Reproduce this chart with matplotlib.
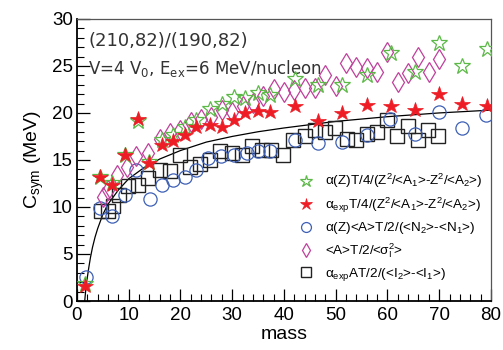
import numpy as np
import matplotlib
matplotlib.use('Agg')
import matplotlib.pyplot as plt
from matplotlib.ticker import MultipleLocator

plt.rcParams['font.family'] = ['Liberation Sans', 'DejaVu Sans']
plt.rcParams['mathtext.fontset'] = 'custom'
plt.rcParams['mathtext.rm'] = 'Liberation Sans'
plt.rcParams['mathtext.it'] = 'Liberation Sans:italic'
plt.rcParams['mathtext.default'] = 'regular'

# alpha(Z) T/4/(...)  (green open stars)
m_green = [1.5, 4.5, 6.8, 9.3, 11.7, 13.9, 16.4, 18.6, 20.9, 23.1, 25.7, 28.0, 30.3,
           32.5, 35.0, 37.3, 42.1, 46.6, 51.2, 56.0, 60.7, 65.3, 70.0, 74.5, 79.2]
c_green = [1.8, 13.2, 12.5, 15.5, 19.1, 14.8, 17.1, 17.7, 18.5, 19.2, 20.4, 20.9, 21.7,
           21.6, 22.1, 21.9, 23.6, 23.0, 23.0, 24.0, 26.4, 24.4, 27.4, 25.0, 26.8]

# alpha_exp T/4/(...)  (red filled stars)
m_red = m_green
c_red = [1.6, 13.2, 12.3, 15.5, 19.4, 14.7, 16.6, 17.0, 17.7, 18.5, 18.7, 18.5, 19.3,
         20.0, 20.2, 20.1, 20.7, 19.1, 20.0, 20.8, 20.7, 20.3, 22.0, 21.0, 20.7]

# alpha(Z)<A>T/2/(<N2>-<N1>)  (blue circles)
m_blue = [1.7, 4.4, 6.7, 9.3, 11.5, 14.1, 16.4, 18.6, 20.9, 23.1, 25.4, 27.8, 30.3,
          32.8, 35.0, 37.3, 42.1, 46.6, 51.3, 56.0, 60.5, 65.3, 70.0, 74.5, 79.0]
c_blue = [2.5, 9.9, 9.0, 11.3, 13.9, 10.9, 12.3, 12.9, 13.2, 13.9, 15.2, 15.4, 15.5,
          15.7, 15.9, 16.0, 17.1, 16.8, 16.9, 17.7, 19.4, 17.8, 20.1, 18.4, 19.8]

# <A>T/2/<sigma_I^2>  (magenta diamonds)
m_dia = [5, 6, 7.7, 9.6, 11.5, 13.8, 16, 18, 20, 22, 24, 26, 28, 30, 32, 34, 36,
         38, 40, 42, 44, 46, 48, 50, 52, 54, 56, 58, 60, 62, 64, 66, 68, 70]
c_dia = [11.1, 11.8, 13.4, 14.3, 15.4, 15.7, 17.2, 17.9, 18.2, 19.0, 19.4, 19.6, 20.3,
         20.1, 20.7, 21.1, 21.8, 22.5, 22.2, 22.4, 22.6, 22.7, 24.0, 22.9, 25.3, 24.9,
         24.8, 24.3, 26.5, 23.3, 24.2, 26.0, 24.4, 25.7]

# alpha_exp AT/2/(<I2>-<I1>)  (black squares)
m_sq = [4.6, 6.0, 7.0, 8.2, 9.9, 11.8, 13.8, 16.0, 18.0, 19.9, 21.8, 23.8, 25.7, 27.6,
        29.9, 31.8, 33.9, 35.7, 37.5, 39.9, 41.8, 44.1, 46.0, 47.9, 49.9, 52.1, 54.0,
        56.0, 57.9, 59.9, 61.8, 64.0, 66.0, 67.9, 69.8]
c_sq = [9.6, 9.6, 10.1, 11.3, 12.2, 12.3, 13.1, 13.9, 13.8, 15.5, 14.3, 14.6, 15.0, 15.9,
        15.7, 15.5, 16.5, 16.1, 16.1, 15.5, 17.1, 17.5, 18.2, 18.0, 18.4, 17.2, 17.1,
        17.8, 18.0, 19.3, 17.5, 18.6, 17.1, 18.2, 17.6]

# solid curve, points
m_fit = [1.5, 1.7, 2.0, 2.3, 2.6, 3.0, 3.5, 4.0, 5.0, 6.0, 8.0, 10.0, 13.0, 16.0,
         20.0, 25.0, 30.0, 35.0, 40.0, 50.0, 60.0, 70.0, 80.0]
c_fit = [0.0, 1.2, 2.5, 3.6, 4.6, 5.7, 6.8, 7.7, 9.2, 10.3, 11.8, 13.0, 14.2, 15.1,
         16.0, 16.9, 17.5, 18.0, 18.4, 19.1, 19.6, 20.0, 20.3]

fig = plt.figure(figsize=(5.03, 3.5), dpi=100)
ax = fig.add_axes([0.153, 0.140, 0.823, 0.806])

ax.plot(m_fit, c_fit, '-', color='k', lw=0.9, zorder=1)
ax.plot(m_sq, c_sq, 's', ms=9.5, mfc='none', mec='#222222', mew=1.0, zorder=2,
        label=r'α$_{exp}$AT/2/(<I$_2$>-<I$_1$>)')
ax.plot(m_blue, c_blue, 'o', ms=9.5, mfc='none', mec='#3d5fb5', mew=0.9, zorder=3,
        label=r'α(Z)<A>T/2/(<N$_2$>-<N$_1$>)')
ax.plot(m_dia, c_dia, 'd', ms=10, mfc='none', mec='#c0409c', mew=0.9, zorder=4,
        label=r'<A>T/2/<σ$_I^2$>')
ax.plot(m_green, c_green, '*', ms=12, mfc='none', mec='#5cb947', mew=0.9, zorder=5,
        label=r'α(Z)T/4/(Z$^2$/<A$_1$>-Z$^2$/<A$_2$>)')
ax.plot(m_red, c_red, '*', ms=11.5, mfc='#ee1c25', mec='#ee1c25', mew=0.5, zorder=6,
        label=r'α$_{exp}$T/4/(Z$^2$/<A$_1$>-Z$^2$/<A$_2$>)')

ax.set_xlim(0, 80)
ax.set_ylim(0, 30)
ax.xaxis.set_major_locator(MultipleLocator(10))
ax.xaxis.set_minor_locator(MultipleLocator(2))
ax.yaxis.set_major_locator(MultipleLocator(5))
ax.yaxis.set_minor_locator(MultipleLocator(1))
ax.tick_params(which='both', direction='in', top=False, right=False, labelsize=13.5)
ax.tick_params(which='major', length=9, width=0.9)
ax.tick_params(which='minor', length=5, width=0.8)
ax.tick_params(axis='x', pad=4)
ax.tick_params(axis='y', pad=3)
for s in ['left', 'bottom']:
    ax.spines[s].set_linewidth(1.3)
for s in ['top', 'right']:
    ax.spines[s].set_linewidth(0.9)
    ax.spines[s].set_color('#555555')

ax.set_xlabel('mass', fontsize=14, labelpad=2)
ax.set_ylabel(r'C$_{sym}$ (MeV)', fontsize=14, labelpad=4)

ax.text(0.027, 0.955, '(210,82)/(190,82)', transform=ax.transAxes, fontsize=13,
        color='#333333', va='top', ha='left', family='DejaVu Sans')
ax.text(0.027, 0.86, r'V=4 V$_0$, E$_{ex}$=6 MeV/nucleon', transform=ax.transAxes,
        fontsize=12, color='#333333', va='top', ha='left', family='DejaVu Sans')

h, l = ax.get_legend_handles_labels()
order = [3, 4, 1, 2, 0]
leg = ax.legend([h[i] for i in order], [l[i] for i in order], loc='upper left',
                bbox_to_anchor=(0.505, 0.50), frameon=False, fontsize=9.7,
                markerscale=0.75, handlelength=1.2, handletextpad=0.8,
                labelspacing=0.4)

fig.savefig('out.png', dpi=100)
